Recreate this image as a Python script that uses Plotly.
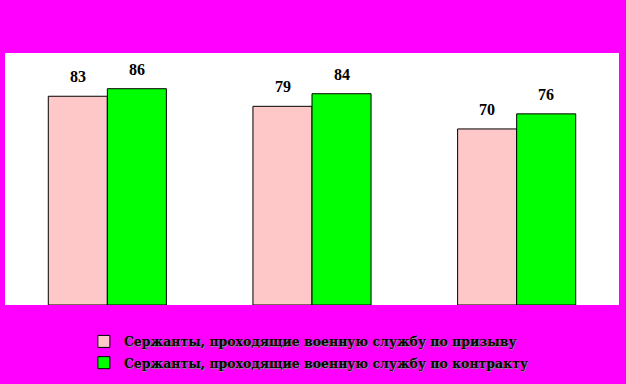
import plotly.graph_objects as go

categories = ["A", "B", "C"]
series_names = [
    "Сержанты, проходящие военную службу по призыву",
    "Сержанты, проходящие военную службу по контракту",
]
conscript = [83, 79, 70]
contract = [86, 84, 76]

fig = go.Figure()
fig.add_trace(go.Bar(x=categories, y=conscript, name=series_names[0],
                     marker=dict(color="#FFC8C8", line=dict(color="black", width=1)),
                     legendgroup="a"))
fig.add_trace(go.Bar(x=categories, y=contract, name=series_names[1],
                     marker=dict(color="#00FF00", line=dict(color="black", width=1)),
                     legendgroup="b"))

for vals, shift in ((conscript, -29.5), (contract, 29.5)):
    for c, v in zip(categories, vals):
        fig.add_annotation(x=c, y=v, text=str(v), showarrow=False,
                           xshift=shift, yshift=9, yanchor="bottom",
                           font=dict(family="Liberation Serif", size=16, color="black",
                                     weight="bold"))

fig.update_layout(
    width=626, height=384,
    margin=dict(l=5, r=7, t=53, b=79, pad=0, autoexpand=False),
    paper_bgcolor="#FF00FF", plot_bgcolor="white",
    barmode="group", bargap=0.423, bargroupgap=0,
    xaxis=dict(showticklabels=False, showgrid=False, zeroline=False, showline=False, ticks=""),
    yaxis=dict(range=[0, 100.2], showticklabels=False, showgrid=False, zeroline=False,
               showline=False, ticks=""),
    legend=dict(xref="container", yref="container", x=0.134, y=0.149,
                xanchor="left", yanchor="top", bgcolor="rgba(0,0,0,0)",
                tracegroupgap=2,
                font=dict(family="DejaVu Serif", size=12.5, color="black", weight="bold",
                          shadow="1px 1px 0px #888888")),
    showlegend=True,
)
fig.write_html("out.html", config={"displayModeBar": False},
               post_script="document.body.style.margin='0';document.body.style.background='#FF00FF';")
